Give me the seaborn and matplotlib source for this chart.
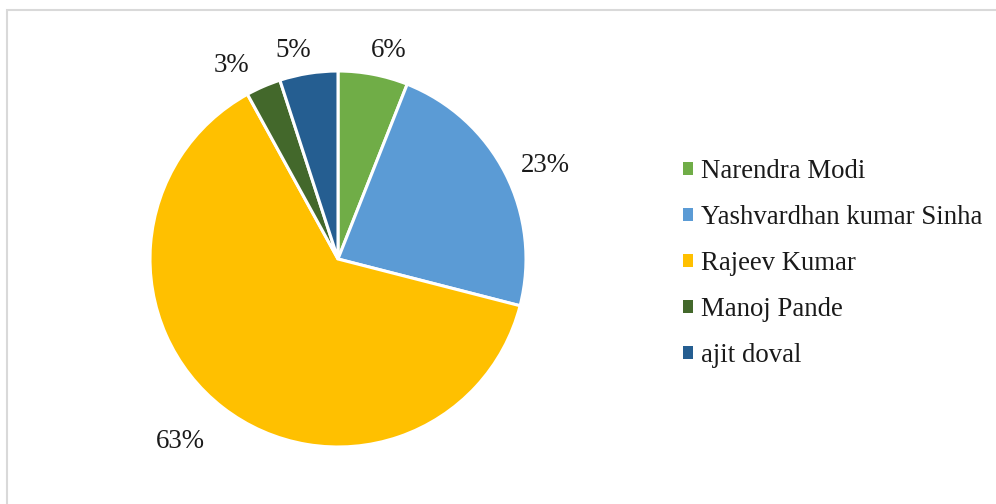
import numpy as np
import matplotlib
matplotlib.use("Agg")
import matplotlib.pyplot as plt
import matplotlib.transforms as mtransforms
from matplotlib.patches import Rectangle, Patch
import seaborn as sns

# Share of responses per name
names = ["Narendra Modi", "Yashvardhan kumar Sinha", "Rajeev Kumar", "Manoj Pande", "ajit doval"]
shares = [6, 23, 63, 3, 5]
colors = ["#70AD47", "#5B9BD5", "#FFC000", "#43682B", "#255E91"]
# percentage label placement: radial distance (in pie radii) and angular nudge (deg)
label_dist = [1.155, 1.22, 1.27, 1.19, 1.15]
label_nudge = [-2.8, -2.0, -3.5, 5.1, 3.0]

sns.set_theme(style="white")
plt.rcParams["font.family"] = ["Liberation Serif", "DejaVu Serif"]

W, H = 996, 504
fig = plt.figure(figsize=(W / 100, H / 100), dpi=100)
fig.patch.set_facecolor("white")

# light frame around the chart area
fig.add_artist(Rectangle((6.5 / W, -0.2), 2.0, 1.2 - 10.5 / H,
                         transform=fig.transFigure, fill=False,
                         edgecolor="#D9D9D9", linewidth=1.5))

cx, cy, r = 338, 259, 188
ax = fig.add_axes([(cx - r) / W, (H - cy - r) / H, 2 * r / W, 2 * r / H])
palette = sns.color_palette(colors)
wedges, _ = ax.pie(shares, colors=palette, startangle=90, counterclock=False,
                   wedgeprops=dict(edgecolor="white", linewidth=2.2))
ax.set_xlim(-1, 1)
ax.set_ylim(-1, 1)
ax.set_aspect("auto")
ax.axis("off")

text_tr = mtransforms.offset_copy(ax.transData, fig=fig, x=0, y=-3, units="dots")
for w, v, d, n in zip(wedges, shares, label_dist, label_nudge):
    ang = np.deg2rad((w.theta1 + w.theta2) / 2 + n)
    ax.text(d * np.cos(ang), d * np.sin(ang), f"{v}%", ha="center", va="center",
            fontsize=19.4, color="#1a1a1a", clip_on=False, transform=text_tr)

handles = [Patch(facecolor=c, edgecolor="none") for c in palette]
fig.legend(handles, names, loc="center left",
           bbox_to_anchor=(683 / W, 1 - 263.5 / H), frameon=False,
           fontsize=19.3, handlelength=0.37, handleheight=0.37,
           handletextpad=0.3, labelspacing=0.78, borderpad=0, borderaxespad=0,
           labelcolor="#1a1a1a")

fig.savefig("out.png", dpi=100, facecolor="white")
